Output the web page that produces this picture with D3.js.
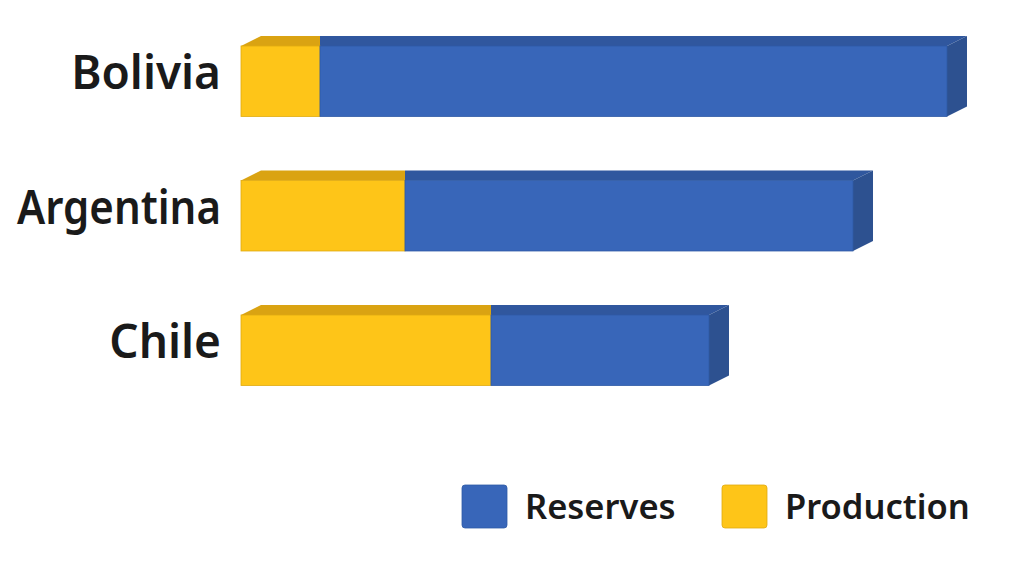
<!DOCTYPE html>
<html><head><meta charset="utf-8">
<script src="https://cdn.jsdelivr.net/npm/d3@7"></script>
<style>html,body{margin:0;padding:0;background:#fff;}svg{display:block;}</style>
</head><body>
<svg id="c" width="1024" height="571"></svg>
<script>
const countries = ["Bolivia", "Argentina", "Chile"];
const production = [7.9, 16.4, 25.0];
const reserves = [62.7, 44.8, 21.8];
const seriesNames = ["Reserves", "Production"];

const svg = d3.select("#c");
const totals = countries.map((c, i) => production[i] + reserves[i]);
const x = d3.scaleLinear().domain([0, d3.max(totals)]).range([241, 947]);
const y = d3.scaleBand().domain(countries).range([46, 385.5]).paddingInner(0.476).paddingOuter(0);
const dx = 20, dy = 10;
const col = {
  Production: {front: "#FEC518", top: "#DAA312", edge: "#E0AA10"},
  Reserves: {front: "#3866B9", top: "#30579E", side: "#2D5190", edge: "#2F5AA6"}
};
const maxLabelW = 204;

const g = svg.append("g");
countries.forEach((c, i) => {
  const y0 = y(c), h = y.bandwidth();
  const xa = x(0), xb = x(production[i]), xc = x(production[i] + reserves[i]);
  const bar = g.append("g");
  bar.append("path").attr("d", `M${xa},${y0} L${xa+dx},${y0-dy} L${xb},${y0-dy} L${xb},${y0} Z`)
    .attr("fill", col.Production.top);
  bar.append("path").attr("d", `M${xb},${y0} L${xb},${y0-dy} L${xc+dx},${y0-dy} L${xc},${y0} Z`)
    .attr("fill", col.Reserves.top);
  bar.append("path").attr("d", `M${xc},${y0} L${xc+dx},${y0-dy} L${xc+dx},${y0+h-dy} L${xc},${y0+h} Z`)
    .attr("fill", col.Reserves.side);
  bar.append("rect").attr("x", xa).attr("y", y0).attr("width", xb - xa).attr("height", h)
    .attr("fill", col.Production.front).attr("stroke", col.Production.edge).attr("stroke-width", 0.8);
  bar.append("rect").attr("x", xb).attr("y", y0).attr("width", xc - xb).attr("height", h)
    .attr("fill", col.Reserves.front).attr("stroke", col.Reserves.edge).attr("stroke-width", 0.8);
  const t = svg.append("text").attr("x", 221).attr("y", y0 + 43)
    .attr("text-anchor", "end")
    .attr("font-family", "'Noto Sans', 'Open Sans', sans-serif")
    .attr("font-weight", 600).attr("font-size", 46).attr("fill", "#1a1a1a")
    .text(c);
  const w = t.node().getComputedTextLength();
  if (w > maxLabelW) t.attr("textLength", maxLabelW).attr("lengthAdjust", "spacingAndGlyphs");
});

const legX = [462, 722];
seriesNames.forEach((s, i) => {
  svg.append("rect").attr("x", legX[i]).attr("y", 485).attr("width", 45).attr("height", 43)
    .attr("rx", 3).attr("fill", col[s].front).attr("stroke", col[s].edge).attr("stroke-width", 0.8);
  svg.append("text").attr("x", legX[i] + 63).attr("y", 519)
    .attr("font-family", "'Noto Sans', 'Open Sans', sans-serif")
    .attr("font-weight", 600).attr("font-size", 34.5).attr("fill", "#1a1a1a")
    .text(s);
});
</script>
</body></html>
